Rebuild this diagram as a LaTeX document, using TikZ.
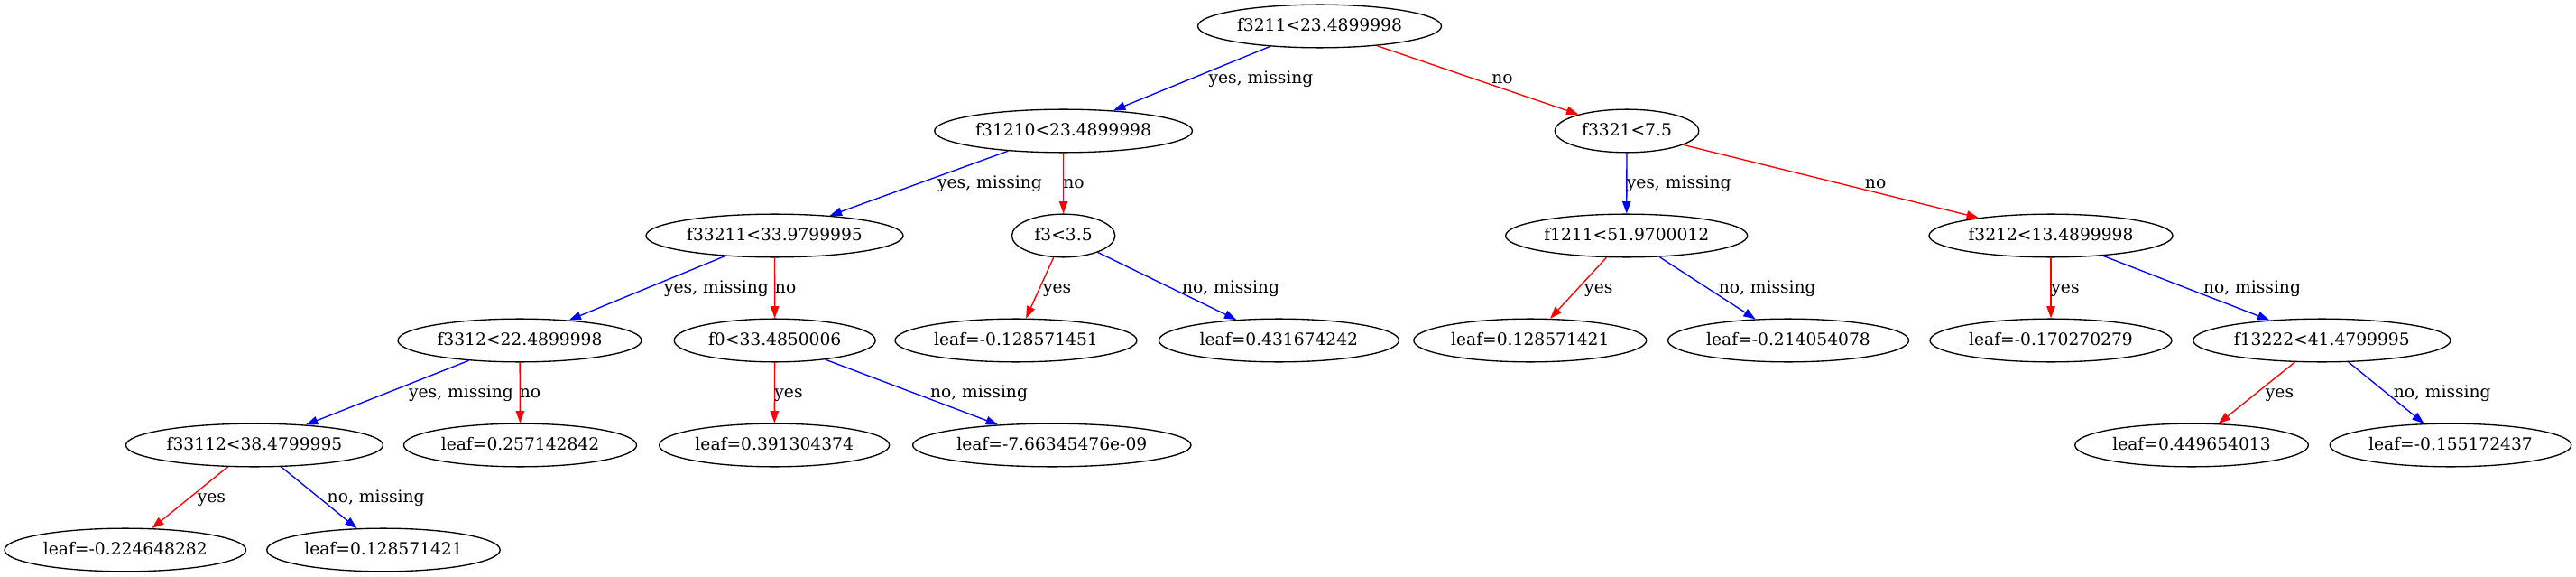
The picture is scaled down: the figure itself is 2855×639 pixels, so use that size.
\documentclass[tikz,border=0pt]{standalone}
\usepackage{fontspec}
\setmainfont{DejaVu Serif}
\usetikzlibrary{arrows.meta,shapes.geometric}
\begin{document}
\begin{tikzpicture}[x=1pt,y=-1pt,
  tn/.style={ellipse, draw, line width=1.33pt, inner sep=0pt, minimum height=47.7pt,
    text height=14pt, text depth=3pt, font=\fontsize{18.67}{22}\selectfont},
  lbl/.style={inner sep=0pt, text height=14pt, text depth=3pt, font=\fontsize{18.67}{22}\selectfont},
  edge/.style={line width=1.33pt, -{Triangle[length=13.3pt,width=9.3pt]}},
  bl/.style={edge, draw=blue, fill=blue},
  rd/.style={edge, draw=red, fill=red}]
\fill[white] (0,0) rectangle (2855,639);
\useasboundingbox (0,0) rectangle (2855,639);
% level 0
\node[tn, minimum width=270pt] (root) at (1462.5,29) {f3211<23.4899998};
% level 1
\node[tn, minimum width=285.7pt] (n1) at (1178.6,145) {f31210<23.4899998};
\node[tn, minimum width=159.4pt] (n2) at (1803,145) {f3321<7.5};
% level 2
\node[tn, minimum width=285pt] (n3) at (858.5,261) {f33211<33.9799995};
\node[tn, minimum width=114.3pt] (n4) at (1178.6,261) {f3<3.5};
\node[tn, minimum width=268pt] (n5) at (1802.7,261) {f1211<51.9700012};
\node[tn, minimum width=270pt] (n6) at (2273,261) {f3212<13.4899998};
% level 3
\node[tn, minimum width=270pt] (n7) at (576,377) {f3312<22.4899998};
\node[tn, minimum width=223pt] (n8) at (858.7,377) {f0<33.4850006};
\node[tn, minimum width=268pt] (n9) at (1126,377) {leaf=-0.128571451};
\node[tn, minimum width=266pt] (n10) at (1417.4,377) {leaf=0.431674242};
\node[tn, minimum width=258pt] (n11) at (1695.8,377) {leaf=0.128571421};
\node[tn, minimum width=267pt] (n12) at (1982,377) {leaf=-0.214054078};
\node[tn, minimum width=268pt] (n13) at (2273,377) {leaf=-0.170270279};
\node[tn, minimum width=285.3pt] (n14) at (2573.3,377) {f13222<41.4799995};
% level 4
\node[tn, minimum width=285pt] (n15) at (282,493) {f33112<38.4799995};
\node[tn, minimum width=258pt] (n16) at (576.5,493) {leaf=0.257142842};
\node[tn, minimum width=255pt] (n17) at (858.2,493) {leaf=0.391304374};
\node[tn, minimum width=308.4pt] (n18) at (1165.8,493) {leaf=-7.66345476e-09};
\node[tn, minimum width=258.6pt] (n19) at (2429,493) {leaf=0.449654013};
\node[tn, minimum width=267.5pt] (n20) at (2716,493) {leaf=-0.155172437};
% level 5
\node[tn, minimum width=267.5pt] (n21) at (138.8,609) {leaf=-0.224648282};
\node[tn, minimum width=258.5pt] (n22) at (425,609) {leaf=0.128571421};
% edges
\draw[bl] (root) -- (n1);
\draw[rd] (root) -- (n2);
\draw[bl] (n1) -- (n3);
\draw[rd] (n1) -- (n4);
\draw[bl] (n2) -- (n5);
\draw[rd] (n2) -- (n6);
\draw[bl] (n3) -- (n7);
\draw[rd] (n3) -- (n8);
\draw[rd] (n4) -- (n9);
\draw[bl] (n4) -- (n10);
\draw[rd] (n5) -- (n11);
\draw[bl] (n5) -- (n12);
\draw[rd] (n6) -- (n13);
\draw[bl] (n6) -- (n14);
\draw[bl] (n7) -- (n15);
\draw[rd] (n7) -- (n16);
\draw[rd] (n8) -- (n17);
\draw[bl] (n8) -- (n18);
\draw[rd] (n14) -- (n19);
\draw[bl] (n14) -- (n20);
\draw[rd] (n15) -- (n21);
\draw[bl] (n15) -- (n22);
% edge labels
\node[lbl] (l1) at (1397.5,86.7) {yes, missing};
\node[lbl] (l2) at (1665,86.7) {no};
\node[lbl] (l3) at (1097,202.7) {yes, missing};
\node[lbl] (l4) at (1190,202.7) {no};
\node[lbl] (l5) at (1860.7,202.7) {yes, missing};
\node[lbl] (l6) at (2078.6,202.7) {no};
\node[lbl] (l7) at (794,319) {yes, missing};
\node[lbl] (l8) at (870.6,319) {no};
\node[lbl] (l9) at (1171.7,319) {yes};
\node[lbl] (l10) at (1364,319) {no, missing};
\node[lbl] (l11) at (1771.8,319) {yes};
\node[lbl] (l12) at (1958.7,319) {no, missing};
\node[lbl] (l13) at (2289,319) {yes};
\node[lbl] (l14) at (2496,319) {no, missing};
\node[lbl] (l15) at (511,435) {yes, missing};
\node[lbl] (l16) at (587.6,435) {no};
\node[lbl] (l17) at (874,435) {yes};
\node[lbl] (l18) at (1085,435) {no, missing};
\node[lbl] (l19) at (2526.5,435) {yes};
\node[lbl] (l20) at (2706.7,435) {no, missing};
\node[lbl] (l21) at (234.4,551) {yes};
\node[lbl] (l22) at (416.7,551) {no, missing};
\end{tikzpicture}
\end{document}
